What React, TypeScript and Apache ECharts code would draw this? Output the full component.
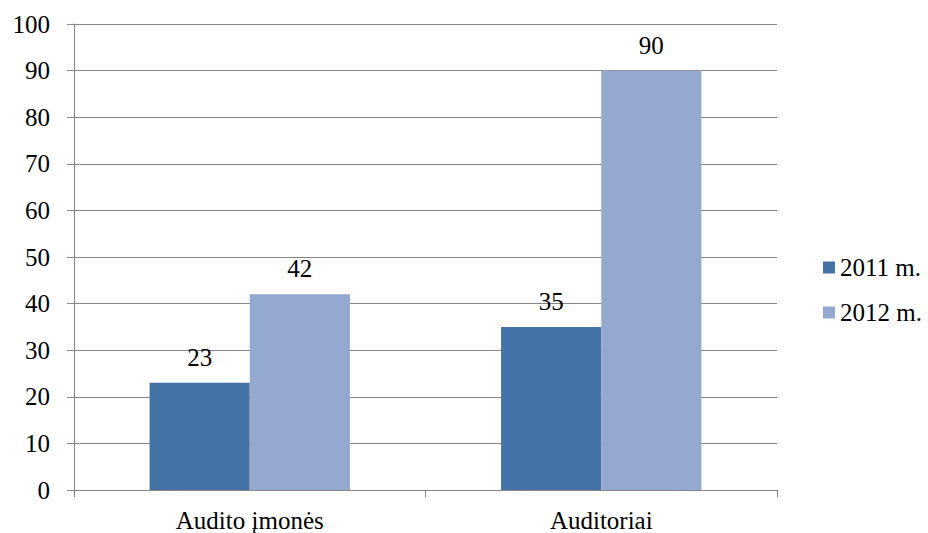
import React, { useEffect, useRef } from "react";
import * as echarts from "echarts";

const categories = ["Audito įmonės", "Auditoriai"];
const series2011 = [23, 35];
const series2012 = [42, 90];
const seriesNames = ["2011 m.", "2012 m."];
const colors = ["#4572A7", "#94A9D0"];

const FONT = "Liberation Serif";
const FONT_SIZE = 25;

export default function App() {
  const ref = useRef<HTMLDivElement>(null);

  useEffect(() => {
    if (!ref.current) return;
    const chart = echarts.init(ref.current, undefined, { renderer: "svg" });
    const labelStyle = {
      show: true,
      position: "top" as const,
      distance: 13,
      color: "#000",
      fontFamily: FONT,
      fontSize: FONT_SIZE,
    };
    chart.setOption({
      animation: false,
      backgroundColor: "#fff",
      textStyle: { fontFamily: FONT },
      grid: { left: 74, right: 151, top: 24, bottom: 43 },
      legend: {
        orient: "vertical",
        left: 818,
        top: 250,
        itemWidth: 12,
        itemHeight: 12,
        itemGap: 20,
        itemStyle: { borderWidth: 0 },
        icon: "rect",
        data: seriesNames,
        textStyle: { fontFamily: FONT, fontSize: FONT_SIZE, color: "#000" },
      },
      xAxis: {
        type: "category",
        data: categories,
        axisLine: { lineStyle: { color: "#868686", width: 1 } },
        axisTick: { show: true, length: 7, lineStyle: { color: "#868686" } },
        axisLabel: { fontFamily: FONT, fontSize: FONT_SIZE, color: "#000", margin: 18 },
      },
      yAxis: {
        type: "value",
        min: 0,
        max: 100,
        interval: 10,
        axisLine: { show: true, lineStyle: { color: "#868686", width: 1 } },
        axisTick: { show: true, length: 7, lineStyle: { color: "#868686" } },
        axisLabel: { fontFamily: FONT, fontSize: FONT_SIZE, color: "#000", margin: 24 },
        splitLine: { show: true, lineStyle: { color: "#868686", width: 1 } },
      },
      series: [
        {
          name: seriesNames[0],
          type: "bar",
          data: series2011,
          barGap: "0%",
          barCategoryGap: "43%",
          itemStyle: { color: colors[0] },
          label: labelStyle,
        },
        {
          name: seriesNames[1],
          type: "bar",
          data: series2012,
          barGap: "0%",
          barCategoryGap: "43%",
          itemStyle: { color: colors[1] },
          label: labelStyle,
        },
      ],
    });
    return () => chart.dispose();
  }, []);

  return <div ref={ref} style={{ width: 928, height: 533, position: "absolute", left: 0, top: 0 }} />;
}
